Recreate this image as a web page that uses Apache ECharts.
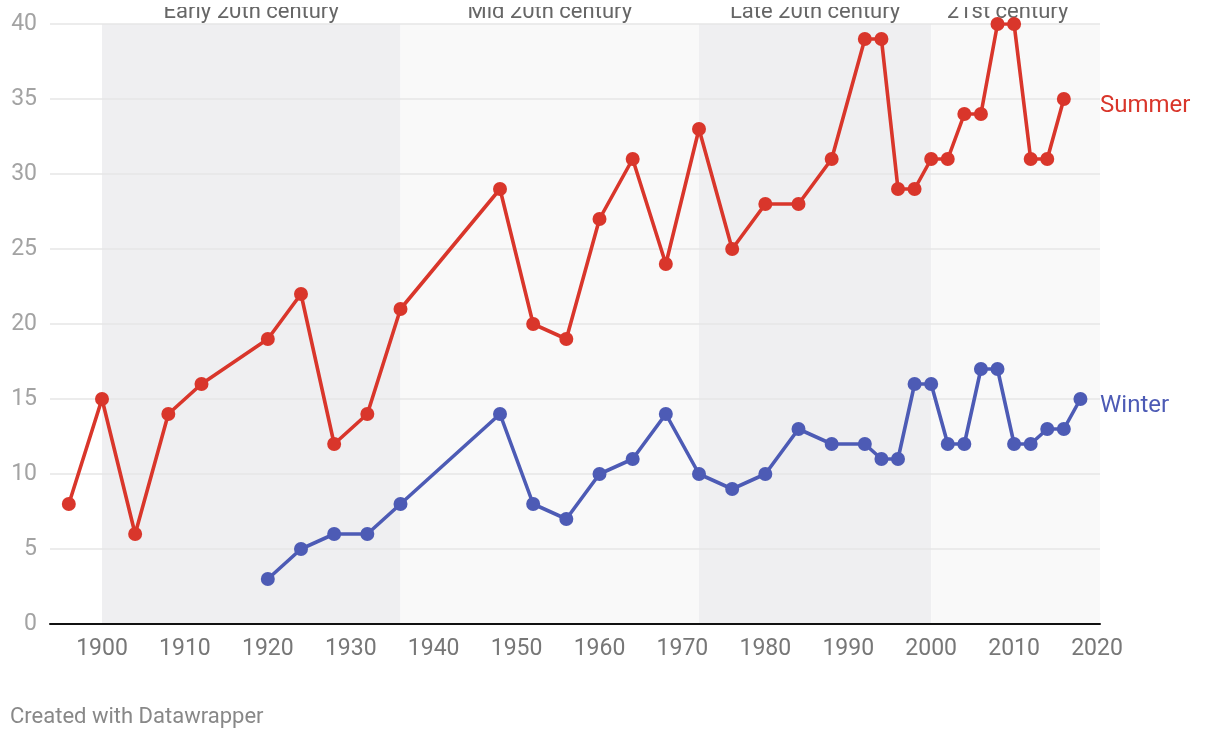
<!DOCTYPE html>
<html>
<head>
<meta charset="utf-8">
<script src="https://cdn.jsdelivr.net/npm/echarts@6/dist/echarts.min.js"></script>
<style>
html,body{margin:0;padding:0;background:#fff;}
#chart{width:1220px;height:740px;}
</style>
</head>
<body>
<div id="chart"></div>
<script>
// ---- Data ----
const summerYears = [1896,1900,1904,1908,1912,1920,1924,1928,1932,1936,1948,1952,1956,1960,1964,1968,1972,1976,1980,1984,1988,1992,1994,1996,1998,2000,2002,2004,2006,2008,2010,2012,2014,2016];
const summerValues = [8,15,6,14,16,19,22,12,14,21,29,20,19,27,31,24,33,25,28,28,31,39,39,29,29,31,31,34,34,40,40,31,31,35];
const winterYears = [1920,1924,1928,1932,1936,1948,1952,1956,1960,1964,1968,1972,1976,1980,1984,1988,1992,1994,1996,1998,2000,2002,2004,2006,2008,2010,2012,2014,2016,2018];
const winterValues = [3,5,6,6,8,14,8,7,10,11,14,10,9,10,13,12,12,11,11,16,16,12,12,17,17,12,12,13,13,15];
const xTickLabels = [1900,1910,1920,1930,1940,1950,1960,1970,1980,1990,2000,2010,2020];
const yTickLabels = [0,5,10,15,20,25,30,35,40];
const eraNames = ['Early 20th century','Mid 20th century','Late 20th century','21st century'];
const eraStarts = [1900,1936,1972,2000];
const eraEnds = [1936,1972,2000,2020.36];
const seriesNames = ['Summer','Winter'];

const RED = '#d9362b';
const BLUE = '#4d5bb5';
const FONT = 'Roboto';

const chart = echarts.init(document.getElementById('chart'), null, {renderer:'canvas'});

const eraColors = ['#efeff1','#f9f9f9','#efeff1','#f9f9f9'];
const eraLabelOffsets = [0,0,0,-8];
const markAreaData = eraNames.map((n,i)=>[
  {name:n, xAxis:eraStarts[i], itemStyle:{color:eraColors[i]},
   label:{offset:[eraLabelOffsets[i],0]}},
  {xAxis:eraEnds[i]}
]);

const option = {
  animation:false,
  backgroundColor:'#fff',
  grid:{left:50,right:120,top:24,bottom:116,containLabel:false},
  xAxis:{
    type:'value', min:1893.73, max:2020.36,
    axisLine:{show:true, onZero:false, lineStyle:{color:'#111',width:2}},
    axisTick:{show:false},
    splitLine:{show:false},
    axisLabel:{customValues:xTickLabels, color:'#777', fontSize:23, fontFamily:FONT, margin:14,
      formatter:v=>String(v)}
  },
  yAxis:{
    type:'value', min:0, max:40, interval:5,
    axisLine:{show:false}, axisTick:{show:false},
    splitLine:{show:true, lineStyle:{color:'#e6e6e6', width:1.5}},
    axisLabel:{color:'#a3a3a3', fontSize:23, fontFamily:FONT, margin:13,
      customValues:yTickLabels}
  },
  series:[
    {
      name:seriesNames[0], type:'line', z:3,
      data:summerYears.map((y,i)=>[y,summerValues[i]]),
      symbol:'circle', symbolSize:14, showAllSymbol:true,
      lineStyle:{color:RED,width:3.6}, itemStyle:{color:RED},
      markArea:{silent:true, z:-1,
        label:{show:true, position:'top', distance:1, color:'#666', fontSize:22, fontFamily:FONT},
        data:markAreaData}
    },
    {
      name:seriesNames[1], type:'line', z:3,
      data:winterYears.map((y,i)=>[y,winterValues[i]]),
      symbol:'circle', symbolSize:14, showAllSymbol:true,
      lineStyle:{color:BLUE,width:3.6}, itemStyle:{color:BLUE}
    }
  ]
};
chart.setOption(option);

const sY = chart.convertToPixel({yAxisIndex:0}, summerValues[summerValues.length-1]);
const wY = chart.convertToPixel({yAxisIndex:0}, winterValues[winterValues.length-1]);
chart.setOption({
  graphic:[
    {type:'rect', z:100, shape:{x:0,y:0,width:1220,height:7}, style:{fill:'#fff'}},
    {type:'text', z:100, x:1100, y:sY+7, style:{text:seriesNames[0], fill:RED, fontSize:24, fontFamily:FONT, verticalAlign:'middle'}},
    {type:'text', z:100, x:1100, y:wY+7, style:{text:seriesNames[1], fill:BLUE, fontSize:24, fontFamily:FONT, verticalAlign:'middle'}},
    {type:'text', z:100, x:10, y:717, style:{text:'Created with Datawrapper', fill:'#888', fontSize:22, fontFamily:FONT, verticalAlign:'middle'}}
  ]
});
</script>
</body>
</html>
